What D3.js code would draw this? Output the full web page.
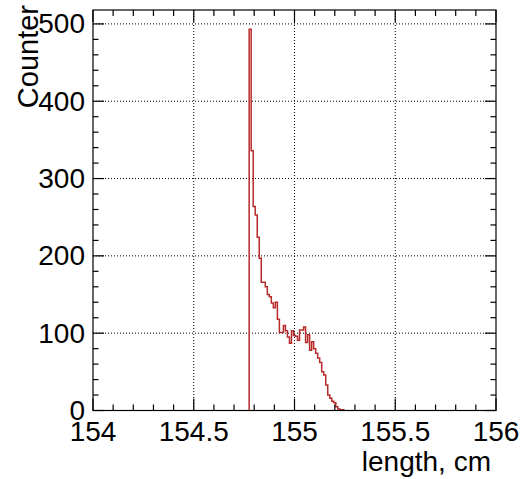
<!DOCTYPE html>
<html><head><meta charset="utf-8">
<script src="https://cdn.jsdelivr.net/npm/d3@7"></script>
<style>body{margin:0;background:#fff;}svg{display:block;}</style>
</head><body>
<svg id="c" width="520" height="479"></svg>
<script>
// Histogram data: bin lower edges (cm), bin width, counts
const binWidth = 0.01;
const binLow = [154.775,154.785,154.795,154.805,154.815,154.825,154.835,154.845,154.855,154.865,
  154.875,154.885,154.895,154.905,154.915,154.925,154.935,154.945,154.955,154.965,
  154.975,154.985,154.995,155.005,155.015,155.025,155.035,155.045,155.055,155.065,
  155.075,155.085,155.095,155.105,155.115,155.125,155.135,155.145,155.155,155.165,
  155.175,155.185,155.195,155.205,155.215,155.225,155.235];
const counts = [493,336,264,253,224,197,166,166,160,150,
  147,139,133,140,118,101,101,110,103,95,
  87,103,97,96,91,104,104,108,88,98,
  78,89,80,74,68,62,50,46,33,20,
  16,12,10,5,2,1,1];
const xTicks = [154,154.5,155,155.5,156];
const xTickLabels = ["154","154.5","155","155.5","156"];
const yTicks = [0,100,200,300,400,500];
const xDomain = [154,156];
const yDomain = [0,518];

const svg = d3.select("#c");
const L = 93, R = 496, T = 10, B = 410.5;
const x = d3.scaleLinear().domain(xDomain).range([L,R]);
const y = d3.scaleLinear().domain(yDomain).range([B,T]);
const font = "'Liberation Sans', Arial, Helvetica, sans-serif";

// grid
const g = svg.append("g");
g.selectAll(".gx").data(xTicks.filter(v=>v>xDomain[0]&&v<xDomain[1])).enter().append("line")
  .attr("x1",d=>x(d)).attr("x2",d=>x(d)).attr("y1",T).attr("y2",B)
  .attr("stroke","#000").attr("stroke-width",1).attr("stroke-dasharray","1,2");
g.selectAll(".gy").data(yTicks.filter(v=>v>0)).enter().append("line")
  .attr("x1",L).attr("x2",R).attr("y1",d=>y(d)).attr("y2",d=>y(d))
  .attr("stroke","#000").attr("stroke-width",1).attr("stroke-dasharray","1,2");

// histogram path
let pts = [[x(binLow[0]), y(0)]];
binLow.forEach((b,i)=>{
  pts.push([x(b), y(counts[i])]);
  pts.push([x(b+binWidth), y(counts[i])]);
});
pts.push([x(binLow[binLow.length-1]+binWidth), y(0)]);
svg.append("path").attr("d", d3.line()(pts))
  .attr("fill","none").attr("stroke","#b82a2a").attr("stroke-width",1.5);

// frame
svg.append("rect").attr("x",L).attr("y",T).attr("width",R-L).attr("height",B-T)
  .attr("fill","none").attr("stroke","#000").attr("stroke-width",1.2);

// ticks
const xMinor = d3.range(0,21).map(i=>xDomain[0]+i*0.1);
const yMinor = d3.range(0,26).map(i=>i*20);
const tk = svg.append("g").attr("stroke","#000").attr("stroke-width",1.2);
xMinor.forEach(v=>{
  const major = xTicks.some(t=>Math.abs(t-v)<1e-6);
  const len = major?12:6;
  tk.append("line").attr("x1",x(v)).attr("x2",x(v)).attr("y1",B).attr("y2",B-len);
  tk.append("line").attr("x1",x(v)).attr("x2",x(v)).attr("y1",T).attr("y2",T+len);
});
yMinor.forEach(v=>{
  const major = yTicks.includes(v);
  const len = major?11:5.5;
  tk.append("line").attr("x1",L).attr("x2",L+len).attr("y1",y(v)).attr("y2",y(v));
  tk.append("line").attr("x1",R).attr("x2",R-len).attr("y1",y(v)).attr("y2",y(v));
});

// labels
svg.selectAll(".xl").data(xTicks).enter().append("text")
  .attr("x",(d)=>x(d)).attr("y",441).attr("text-anchor","middle")
  .attr("font-family",font).attr("font-size",28).attr("fill","#000")
  .text((d,i)=>xTickLabels[i]);
svg.selectAll(".yl").data(yTicks).enter().append("text")
  .attr("x",85).attr("y",d=>y(d)+9.5).attr("text-anchor","end")
  .attr("font-family",font).attr("font-size",28).attr("fill","#000")
  .text(d=>d);
svg.append("text").attr("x",491).attr("y",471).attr("text-anchor","end")
  .attr("font-family",font).attr("font-size",28).attr("fill","#000").text("length, cm");
svg.append("text").attr("transform","translate(38,5) rotate(-90)").attr("text-anchor","end")
  .attr("font-family",font).attr("font-size",29).attr("fill","#000").text("Counter");
</script>
</body></html>
